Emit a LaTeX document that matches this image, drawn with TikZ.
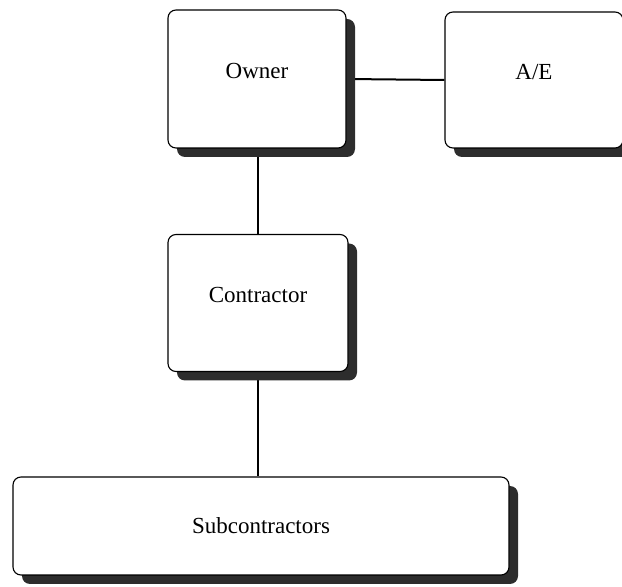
\documentclass[tikz,border=0pt]{standalone}
\usepackage{fontspec}
\setmainfont{Liberation Serif}
\usetikzlibrary{shadows,backgrounds}
\definecolor{shadowgray}{RGB}{45,45,45}

\tikzset{
    orgbox/.style={draw=black, line width=1.1pt, fill=white, rounded corners=8pt,
        font=\fontsize{23}{27}\selectfont,
        drop shadow={shadow xshift=9pt, shadow yshift=-9pt, fill=shadowgray, opacity=1}},
    raised/.style={text depth=16pt},
    link/.style={draw=black, line width=2pt}
}

\begin{document}
\begin{tikzpicture}[x=1pt, y=1pt]
    \useasboundingbox (0,0) rectangle (622,587);
    % Boxes
    \node[orgbox, raised, minimum width=178pt, minimum height=138pt] (owner) at (257,508) {Owner};
    \node[orgbox, raised, minimum width=178pt, minimum height=136pt] (ae) at (534,507) {A/E};
    \node[orgbox, raised, minimum width=180pt, minimum height=137pt] (contractor) at (258,284) {Contractor};
    \node[orgbox, minimum width=496pt, minimum height=98pt] (subs) at (261,61) {Subcontractors};
    % Links
    \begin{scope}[on background layer]
        \draw[link] (owner.east) -- (ae.west);
        \draw[link] (contractor.north) -- (contractor.north |- owner.south);
        \draw[link] (contractor.south) -- (contractor.south |- subs.north);
    \end{scope}
\end{tikzpicture}
\end{document}
